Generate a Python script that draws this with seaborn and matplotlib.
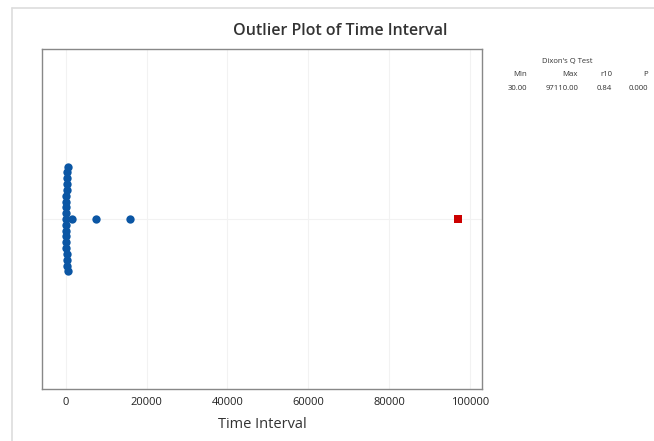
import matplotlib
matplotlib.use("Agg")
import matplotlib.pyplot as plt
from matplotlib.lines import Line2D
import seaborn as sns
import pandas as pd

# ---- data ----
stacked_values = [30, 40, 50, 60, 75, 90, 105, 120, 140, 160, 185, 210,
                  240, 270, 310, 350, 400, 460, 540]
separate_values = [1500, 7400, 15800]
outlier_values = [97110]
xticks = [0, 20000, 40000, 60000, 80000, 100000]
table_headers = ["Min", "Max", "r10", "P"]
table_values = ["30.00", "97110.00", "0.84", "0.000"]

sns.set_theme(style="white")
plt.rcParams['font.family'] = ['Open Sans', 'DejaVu Sans']

W, H = 654, 441
fig = plt.figure(figsize=(W / 100, H / 100), dpi=100)
fig.patch.set_facecolor("white")

# frame lines of the figure
fig.add_artist(Line2D([12 / W, 12 / W], [0, 1 - 8 / H], transform=fig.transFigure,
                      color="#dddddd", lw=1.2))
fig.add_artist(Line2D([12 / W, 1], [1 - 8 / H, 1 - 8 / H], transform=fig.transFigure,
                      color="#dddddd", lw=1.2))

ax = fig.add_axes([42 / W, 1 - 389 / H, 440 / W, 340 / H])

blue = "#0B56A4"
df = pd.DataFrame({"Time Interval": stacked_values, "g": [0] * len(stacked_values)})
dfs = pd.DataFrame({"Time Interval": separate_values, "g": [0] * len(separate_values)})
dfo = pd.DataFrame({"Time Interval": outlier_values, "g": [0] * len(outlier_values)})

ax.set_xlim(-5900, 103000)
ax.set_ylim(0.5, -0.5)

# swarm laid out with a tight spacing (overlapping stack as in the original)
sns.swarmplot(data=df, x="Time Interval", y="g", orient="h", native_scale=True,
              color=blue, size=4.0, linewidth=0, ax=ax)
swarm = ax.collections[-1]
ax.set_xlim(-5900, 103000)
ax.set_ylim(0.5, -0.5)
fig.canvas.draw()          # seaborn computes the swarm positions here
if "draw" in swarm.__dict__:
    del swarm.draw         # freeze those positions
swarm.set_sizes([36])      # then show the markers at full size

sns.stripplot(data=dfs, x="Time Interval", y="g", orient="h", native_scale=True,
              jitter=False, color=blue, size=6.0, linewidth=0, ax=ax)
sns.scatterplot(data=dfo, x="Time Interval", y="g", marker="s", color="#CC0000",
                s=40, linewidth=0, ax=ax, zorder=5)

ax.set_xlim(-5900, 103000)
ax.set_ylim(0.5, -0.5)
ax.set_yticks([])
ax.set_xticks(xticks)
ax.set_xticklabels([str(t) for t in xticks], fontsize=8, color="#222222")
ax.tick_params(axis="x", direction="out", length=3, width=0.8, color="#999999", pad=3)
ax.set_ylabel("")
ax.set_xlabel("Time Interval", fontsize=10.5, color="#333333", labelpad=6)

for t in xticks:
    ax.axvline(t, color="#f2f2f2", lw=0.8, zorder=0)
ax.axhline(0, color="#f2f2f2", lw=0.8, zorder=0)

for s in ax.spines.values():
    s.set_color("#888888")
    s.set_linewidth(1.0)
    s.set_visible(True)

fig.text(340 / W, 1 - 31 / H, "Outlier Plot of Time Interval", ha="center", va="center",
         fontsize=11.5, color="#333333", fontweight="semibold")

fig.text(567 / W, 1 - 62 / H, "Dixon's Q Test", ha="center", va="center",
         fontsize=5.5, color="#333333")
col_x = [527, 578, 612, 648]
for cx, h, v in zip(col_x, table_headers, table_values):
    fig.text(cx / W, 1 - 75 / H, h, ha="right", va="center", fontsize=5.6, color="#333333")
    fig.text(cx / W, 1 - 88 / H, v, ha="right", va="center", fontsize=5.6, color="#333333")

fig.savefig("out.png", dpi=100, facecolor="white")
